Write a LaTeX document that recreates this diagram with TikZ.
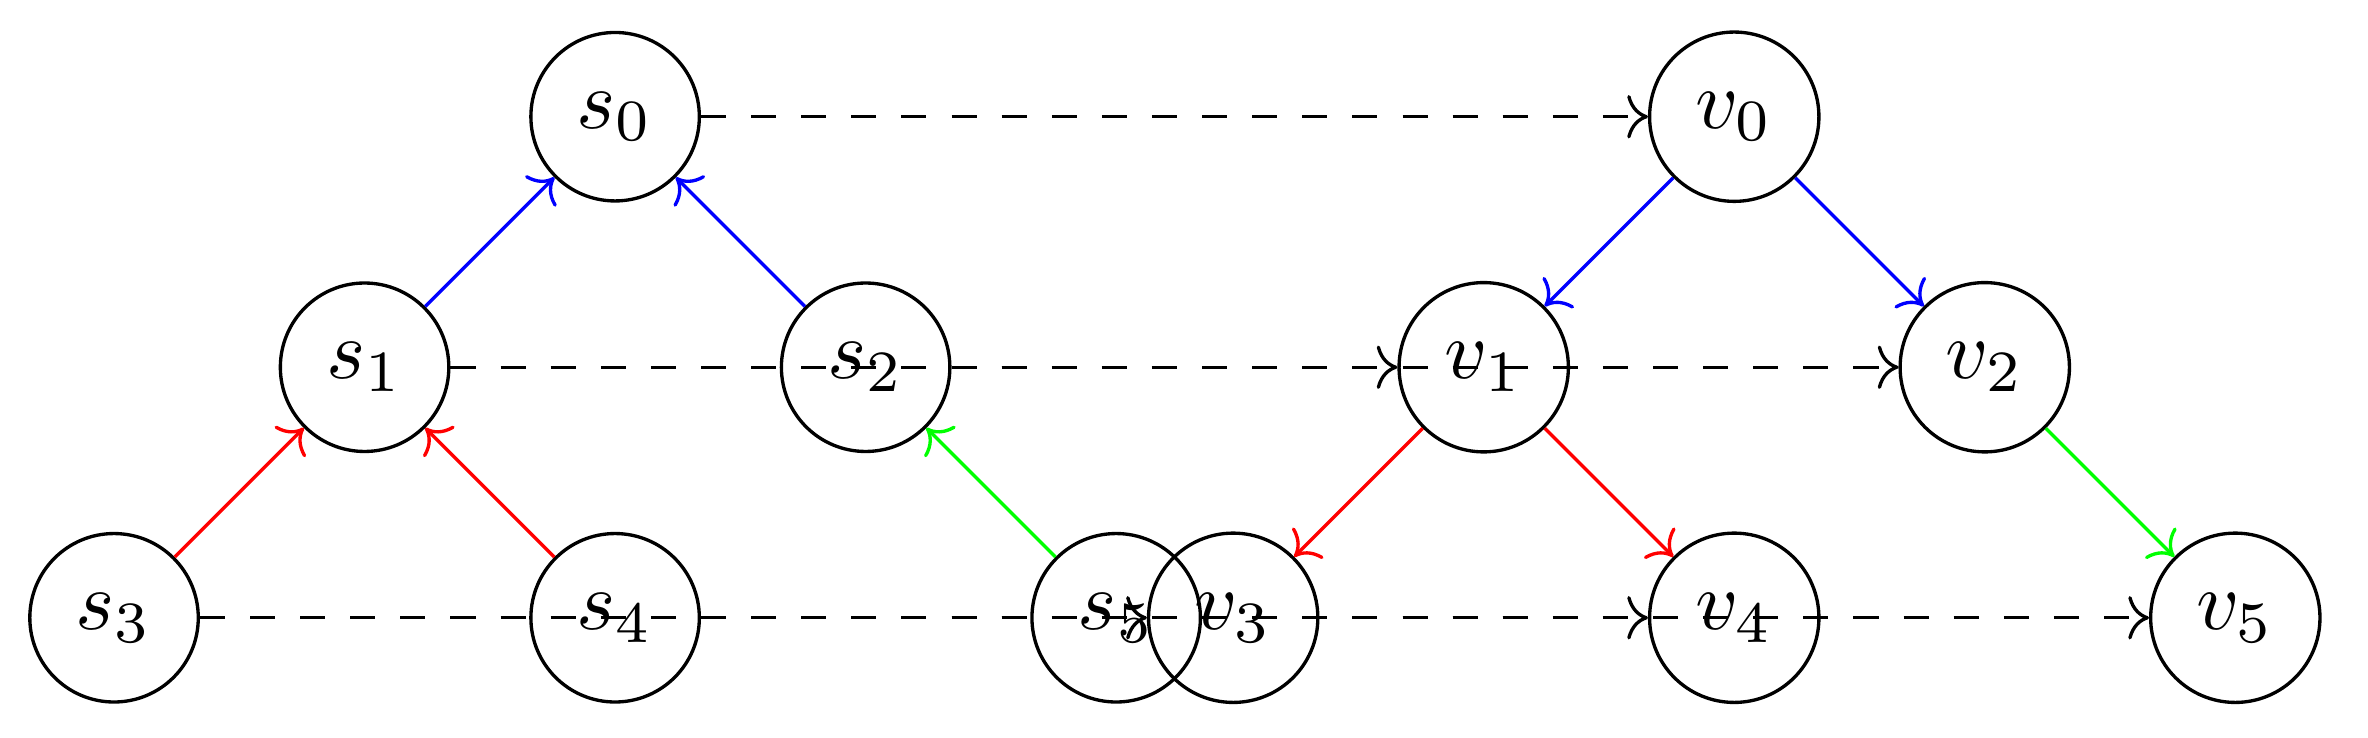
\documentclass[tikz,border=0pt]{standalone}
\usepackage{xcolor}
\usepackage{amsmath}
\usepackage{tikz}
\usetikzlibrary{arrows.meta,positioning}

\begin{document}
\begin{tikzpicture}[thin, node distance=30pt and 30pt, on grid,
    state/.style={circle, draw}]
    \useasboundingbox (-0.480,-0.502) rectangle (9.486,2.600);
    % first tree
    \node[state] (s3) at (0,0) {$s_3$};
    \node[state, above right=of s3] (s1) {$s_1$};
    \node[state, above right=of s1] (s0) {$s_0$};
    \node[state, below right=of s0] (s2) {$s_2$};
    \node[state, below right=of s1] (s4) {$s_4$};
    \node[state, below right=of s2] (s5) {$s_5$};

    % second tree
    \node[state, right=4.71cm of s3] (v3) {$v_3$};
    \node[state, above right=of v3] (v1) {$v_1$};
    \node[state, above right=of v1] (v0) {$v_0$};
    \node[state, below right=of v0] (v2) {$v_2$};
    \node[state, below right=of v1] (v4) {$v_4$};
    \node[state, below right=of v2] (v5) {$v_5$};

    \draw[->, blue] (s1) -- (s0);
    \draw[->, blue] (s2) -- (s0);
    \draw[->, red] (s3) -- (s1);
    \draw[->, red] (s4) -- (s1);
    \draw[->, green] (s5) -- (s2);

    \draw[->, blue] (v0) -- (v1);
    \draw[->, blue] (v0) -- (v2);
    \draw[->, red] (v1) -- (v3);
    \draw[->, red] (v1) -- (v4);
    \draw[->, green] (v2) -- (v5);

    \draw[->, dashed] (s0) -- (v0);
    \draw[->, dashed] (s1) -- (v1);
    \draw[->, dashed] (s2) -- (v2);
    \draw[->, dashed] (s3) -- (v3);
    \draw[->, dashed] (s4) -- (v4);
    \draw[->, dashed] (s5) -- (v5);
\end{tikzpicture}
\end{document}
